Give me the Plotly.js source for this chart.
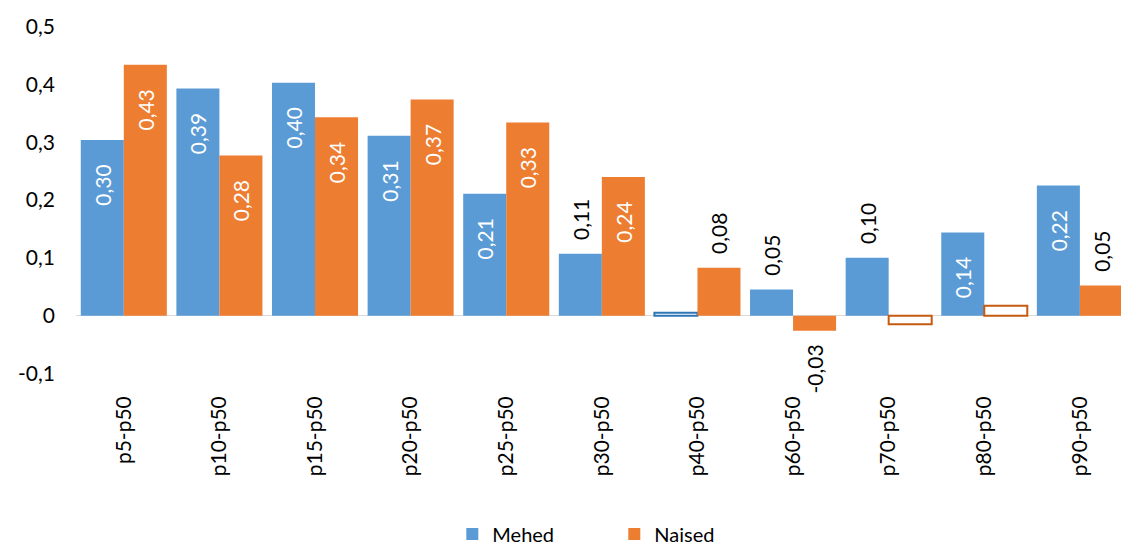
<!DOCTYPE html>
<html>
<head>
<meta charset="utf-8">
<script src="https://cdn.plot.ly/plotly-3.0.1.min.js"></script>
<style>html,body{margin:0;padding:0;background:#fff;}</style>
</head>
<body>
<div id="chart" style="width:1121px;height:545px;"></div>
<script>
const categories = ["p5-p50","p10-p50","p15-p50","p20-p50","p25-p50","p30-p50","p40-p50","p60-p50","p70-p50","p80-p50","p90-p50"];
const mehed  = [0.304, 0.393, 0.403, 0.311, 0.211, 0.107, 0.005, 0.045, 0.100, 0.144, 0.225];
const naised = [0.434, 0.277, 0.343, 0.374, 0.334, 0.240, 0.083, -0.026, -0.015, 0.017, 0.052];
const mehedLabels  = ["0,30","0,39","0,40","0,31","0,21","0,11","","0,05","0,10","0,14","0,22"];
const naisedLabels = ["0,43","0,28","0,34","0,37","0,33","0,24","0,08","-0,03","","","0,05"];
// significance flag: hollow bars are non-significant
const mehedHollow  = [false,false,false,false,false,false,true,false,false,false,false];
const naisedHollow = [false,false,false,false,false,false,false,false,true,true,false];
const mehedInside  = [true,true,true,true,true,false,false,false,false,true,true];
const naisedInside = [true,true,true,true,true,true,false,false,false,false,false];

const tickVals = [-0.1, 0, 0.1, 0.2, 0.3, 0.4, 0.5];
const tickText = ["-0,1","0","0,1","0,2","0,3","0,4","0,5"];

const BLUE = "#5B9BD5", ORANGE = "#ED7D31";
const BLUE_EDGE = "#2E75B6", ORANGE_EDGE = "#C55A11";
const NB = "\u00A0";

function pad(label, inside, value) {
  if (!label) return "";
  if (inside) return label + NB + NB + NB + NB;       // push down from bar end
  if (value < 0) return label + NB + NB;              // below negative bar
  return NB + NB + label;                             // above positive bar
}

function makeTrace(name, vals, labels, hollow, inside, color, edge) {
  return {
    type: "bar",
    name: name,
    x: categories,
    y: vals,
    text: vals.map((v, i) => pad(labels[i], inside[i], v)),
    textposition: inside.map(b => b ? "inside" : "outside"),
    insidetextanchor: "end",
    textangle: -90,
    constraintext: "none",
    cliponaxis: false,
    textfont: {family: "Lato, sans-serif", size: 21, color: inside.map(b => b ? "#ffffff" : "#000000")},
    hoverinfo: "x+y",
    marker: {
      color: hollow.map(h => h ? "#ffffff" : color),
      line: {color: hollow.map(h => h ? edge : color), width: hollow.map(h => h ? 2 : 0)}
    }
  };
}

const data = [
  makeTrace("Mehed", mehed, mehedLabels, mehedHollow, mehedInside, BLUE, BLUE_EDGE),
  makeTrace("Naised", naised, naisedLabels, naisedHollow, naisedInside, ORANGE, ORANGE_EDGE)
];

const layout = {
  width: 1121, height: 545,
  margin: {l: 76, r: 0, t: 15, b: 160, autoexpand: false},
  paper_bgcolor: "#ffffff", plot_bgcolor: "#ffffff",
  font: {family: "Lato, sans-serif", color: "#000000"},
  barmode: "group",
  bargap: 0.1,
  bargroupgap: 0,
  showlegend: true,
  legend: {
    orientation: "h", xref: "container", x: 0.548, xanchor: "center",
    yref: "container", y: 0.02, yanchor: "middle",
    font: {size: 20, color: "#000000"}, entrywidth: 117, entrywidthmode: "pixels"
  },
  xaxis: {
    type: "category",
    range: [-0.5, 10.43],
    tickangle: -90,
    tickfont: {size: 21, color: "#000000"},
    showgrid: false, showline: false, zeroline: false, ticks: "",
    ticklabelstandoff: 6, automargin: false
  },
  yaxis: {
    range: [-0.12, 0.52],
    tickvals: tickVals, ticktext: tickText,
    tickfont: {size: 21, color: "#000000"},
    showgrid: false, showline: false,
    zeroline: true, zerolinecolor: "#d9d9d9", zerolinewidth: 1.5,
    ticks: "", ticklabelstandoff: 20, automargin: false
  }
};

Plotly.newPlot("chart", data, layout, {displayModeBar: false, staticPlot: true});
</script>
</body>
</html>
